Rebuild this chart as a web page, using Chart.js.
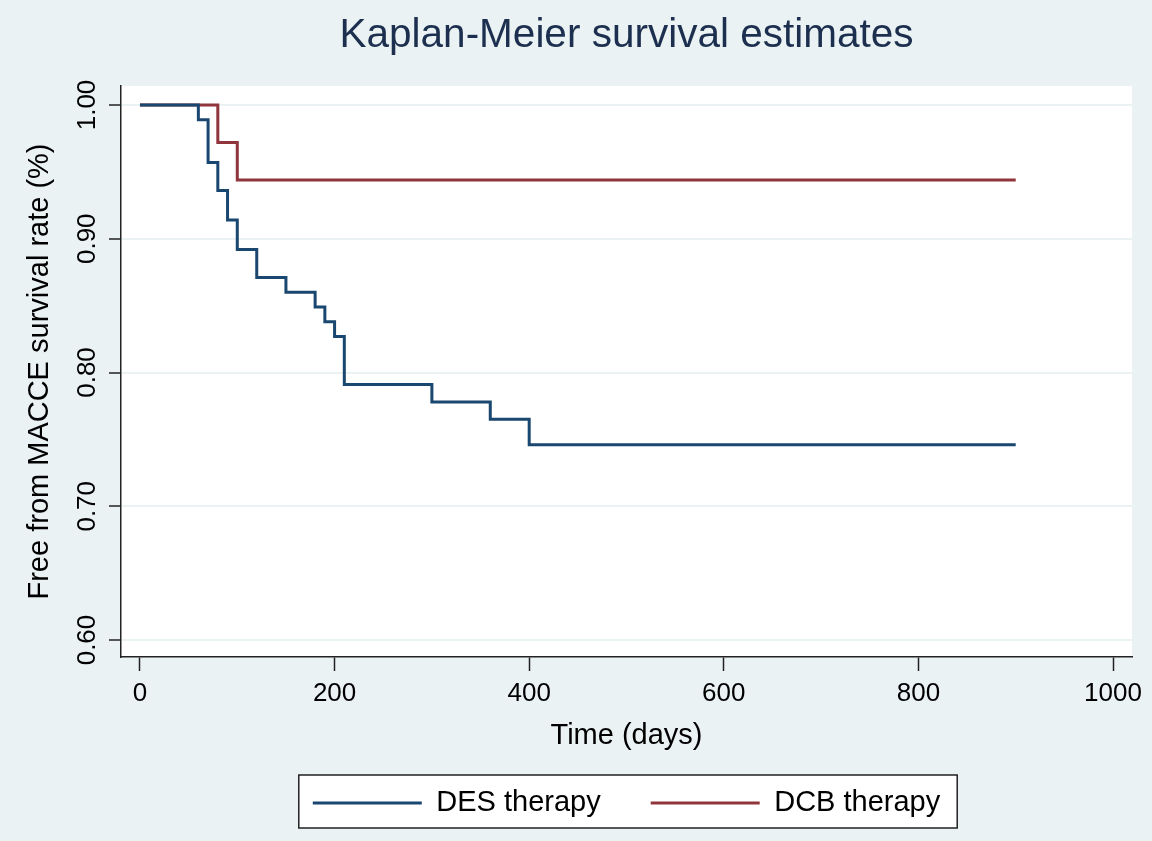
<!DOCTYPE html>
<html>
<head>
<meta charset="utf-8">
<script src="https://cdn.jsdelivr.net/npm/chart.js@4.4.1/dist/chart.umd.min.js"></script>
<style>
    html, body { margin: 0; padding: 0; background: #eaf2f3; }
    #wrap { width: 1152px; height: 841px; }
</style>
</head>
<body>
<div id="wrap"><canvas id="km-chart" width="1152" height="841"></canvas></div>
<script>
// Kaplan-Meier steps (day of event, survival after it)
const desDays = [0, 60, 70, 80, 90, 100, 120, 150, 180, 190, 200, 210, 300, 360, 400, 900];
const desSurvival = [1.000, 0.989, 0.957, 0.936, 0.914, 0.892, 0.871, 0.860, 0.849, 0.838, 0.827, 0.791, 0.778, 0.765, 0.746, 0.746];
const dcbDays = [0, 80, 100, 900];
const dcbSurvival = [1.000, 0.972, 0.944, 0.944];

const seriesLabels = ['DES therapy', 'DCB therapy'];
const xTicks = [0, 200, 400, 600, 800, 1000];
const yTicks = [0.60, 0.70, 0.80, 0.90, 1.00];

const FONT = "'Liberation Sans', Arial, sans-serif";
const BG = '#eaf2f3';

const toPoints = (xs, ys) => xs.map((x, i) => ({ x: x, y: ys[i] }));

// stata-like backdrop: tinted page, white plot region
const backdrop = {
    id: 'backdrop',
    beforeDraw(chart) {
        const { ctx, chartArea: a } = chart;
        ctx.save();
        ctx.fillStyle = BG;
        ctx.fillRect(0, 0, chart.width, chart.height);
        ctx.fillStyle = '#ffffff';
        ctx.fillRect(a.left, a.top, a.right - a.left, a.bottom - a.top);
        ctx.restore();
    }
};

// white box with a frame behind the legend entries
const legendFrame = {
    id: 'legendFrame',
    beforeDraw(chart) {
        const boxes = chart.legend.legendHitBoxes;
        if (!boxes || !boxes.length) return;
        const first = boxes[0], last = boxes[boxes.length - 1];
        const x0 = first.left - 14, x1 = last.left + last.width + 17;
        const y0 = first.top - 13.5, y1 = first.top + first.height + 10.5;
        const ctx = chart.ctx;
        ctx.save();
        ctx.fillStyle = '#ffffff';
        ctx.fillRect(x0, y0, x1 - x0, y1 - y0);
        ctx.strokeStyle = '#222222';
        ctx.lineWidth = 1.5;
        ctx.strokeRect(x0, y0, x1 - x0, y1 - y0);
        ctx.restore();
    }
};

const ctx = document.getElementById('km-chart').getContext('2d');
const chart = new Chart(ctx, {
    type: 'line',
    data: {
        datasets: [{
            label: seriesLabels[0],
            data: toPoints(desDays, desSurvival),
            borderColor: '#1a476f',
            backgroundColor: '#1a476f',
            borderWidth: 3,
            stepped: 'before',
            pointRadius: 0,
            fill: false
        }, {
            label: seriesLabels[1],
            data: toPoints(dcbDays, dcbSurvival),
            borderColor: '#90353b',
            backgroundColor: '#90353b',
            borderWidth: 3,
            stepped: 'before',
            pointRadius: 0,
            fill: false
        }]
    },
    options: {
        responsive: false,
        animation: false,
        devicePixelRatio: 1,
        layout: {
            padding: { top: 0, right: 20, bottom: 13.5, left: 0 }
        },
        scales: {
            x: {
                type: 'linear',
                min: -19.5,
                max: 1019.5,
                afterBuildTicks: scale => { scale.ticks = xTicks.map(v => ({ value: v })); },
                afterFit: scale => { scale.height = 81.5; },
                ticks: {
                    color: '#000000',
                    font: { family: FONT, size: 26 },
                    padding: 7.4,
                    maxRotation: 0,
                    callback: v => String(v)
                },
                grid: {
                    drawOnChartArea: false,
                    tickLength: 14,
                    tickColor: '#222222',
                    tickWidth: 1.5
                },
                border: { color: '#222222', width: 1.5 },
                title: {
                    display: true,
                    text: 'Time (days)',
                    color: '#000000',
                    font: { family: FONT, size: 29 },
                    padding: { top: 0, bottom: -14.9 }
                }
            },
            y: {
                type: 'linear',
                min: 0.5873,
                max: 1.0142,
                afterBuildTicks: scale => { scale.ticks = yTicks.map(v => ({ value: v })); },
                afterFit: scale => { scale.width = 121; },
                ticks: {
                    color: '#000000',
                    font: { family: FONT, size: 26 },
                    minRotation: 90,
                    maxRotation: 90,
                    crossAlign: 'center',
                    padding: -4,
                    callback: v => Number(v).toFixed(2)
                },
                grid: {
                    color: BG,
                    lineWidth: 2,
                    tickLength: 12,
                    tickColor: '#222222',
                    tickWidth: 1.5
                },
                border: { color: '#222222', width: 1.5 },
                title: {
                    display: true,
                    text: 'Free from MACCE survival rate (%)',
                    color: '#000000',
                    font: { family: FONT, size: 29 },
                    padding: { top: 22.6, bottom: 0 }
                }
            }
        },
        plugins: {
            title: {
                display: true,
                text: 'Kaplan-Meier survival estimates',
                color: '#1c2f4f',
                fullSize: false,
                font: { family: FONT, size: 40.5, weight: 'normal' },
                padding: { top: 11.7, bottom: 25.7 }
            },
            legend: {
                position: 'bottom',
                fullSize: false,
                labels: {
                    color: '#000000',
                    font: { family: FONT, size: 29 },
                    boxWidth: 109,
                    boxHeight: 3,
                    padding: 50,
                    generateLabels: c => Chart.defaults.plugins.legend.labels.generateLabels(c)
                        .map(item => Object.assign(item, { lineWidth: 0 }))
                }
            },
            tooltip: { enabled: false }
        }
    },
    plugins: [backdrop, legendFrame]
});
</script>
</body>
</html>
